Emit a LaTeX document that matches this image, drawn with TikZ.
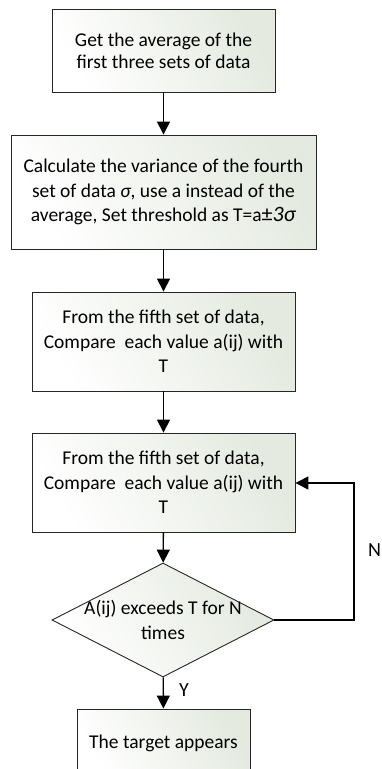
\documentclass[tikz,border=0pt]{standalone}
\usepackage{fontspec}
\setmainfont{Carlito}
\usetikzlibrary{shapes.geometric,arrows.meta}
\definecolor{fillA}{RGB}{228,234,224}
\tikzset{
  procbox/.style={draw=black!85, line width=0.9pt, left color=fillA, right color=white, shading angle=-60,
    inner sep=0pt, align=center, font=\fontsize{19.5}{24.5}\selectfont},
  decbox/.style={draw=black!85, line width=0.9pt, diamond, left color=fillA, right color=white, shading angle=-60,
    inner sep=0pt, minimum width=222pt, minimum height=114pt},
  flow/.style={line width=1.4pt, -{Triangle[length=13pt,width=13pt]}},
  lbl/.style={font=\fontsize{20}{22}\selectfont, inner sep=0pt}
}
\begin{document}
\begin{tikzpicture}[x=1pt,y=-1pt]
\useasboundingbox (0,0) rectangle (381,769);
\clip (0,0) rectangle (381,769);
\fill[white] (0,0) rectangle (381,769);
\node[procbox, minimum width=223pt, minimum height=83pt, font=\fontsize{19.5}{22}\selectfont] (b1) at (163.5,50.5)
  {Get the average of the\\first three sets of data};
\node[procbox, minimum width=305pt, minimum height=114pt] (b2) at (163.5,192)
  {Calculate the variance of the fourth\\set of data \textit{σ}, use a instead of the\\average, Set threshold as T=a{\fontsize{22}{24.5}\selectfont ±\textit{3σ}}};
\node[procbox, minimum width=263pt, minimum height=99pt] (b3) at (163.5,341.5)
  {From the fifth set of data,\\Compare\ \ each value a(ij) with\\T};
\node[procbox, minimum width=263pt, minimum height=99pt] (b4) at (163.5,482.5)
  {From the fifth set of data,\\Compare\ \ each value a(ij) with\\T};
\node[decbox] (d) at (163,620) {};
\node[align=center, inner sep=0pt, font=\fontsize{19.5}{24.5}\selectfont] (dt) at (163,620) {A(ij) exceeds T for N\\times};
\node[procbox, minimum width=173pt, minimum height=68pt] (b5) at (163.5,743) {The target appears};
\coordinate (c1) at (354,620);
\coordinate (c2) at (354,483);
\draw[flow] (b1) -- (b2);
\draw[flow] (b2) -- (b3);
\draw[flow] (b3) -- (b4);
\draw[flow] (b4) -- (d);
\draw[flow] (d) -- (b5);
\draw[flow] (d.east) -- (c1) -- (c2) -- (b4.east |- c2);
\node[lbl, anchor=west] (ylbl) at (179,690) {Y};
\node[lbl, anchor=west] (nlbl) at (368,550) {N};
\end{tikzpicture}
\end{document}
